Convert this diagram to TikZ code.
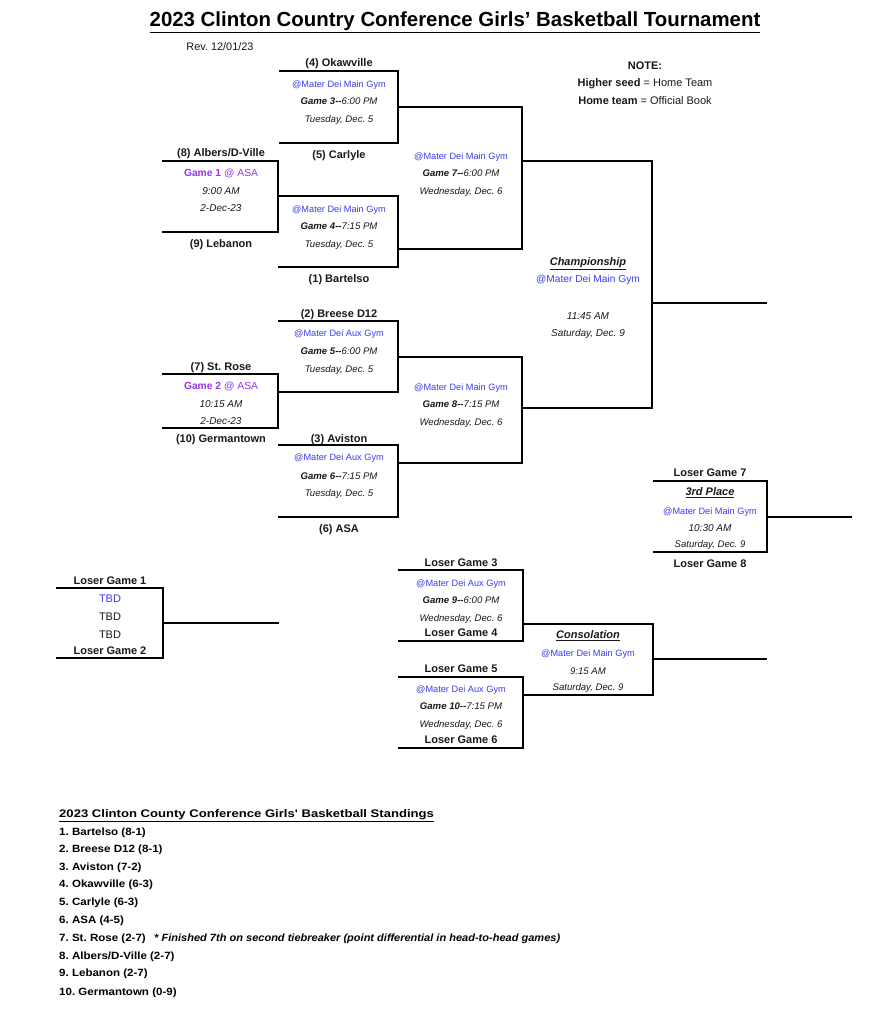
\documentclass[tikz,border=0pt]{standalone}
\usepackage{fontspec}
\setmainfont{Liberation Sans}
\newfontfamily\standfont[FakeStretch=1.1]{Liberation Sans}
\newfontfamily\notefont[FakeStretch=1.05]{Liberation Sans}
\newfontfamily\standtitlefont[FakeStretch=1.19]{Liberation Sans}
\definecolor{venuec}{RGB}{60,60,240}
\definecolor{purp}{RGB}{153,51,238}
\definecolor{txt}{RGB}{25,25,25}
\frenchspacing
\tikzset{
  br/.style={line width=1.5pt, line join=miter},
  team/.style={font=\fontsize{11}{13}\selectfont\bfseries, anchor=mid, inner sep=0, text=txt, yshift=-1pt},
  info/.style={font=\fontsize{9.6}{11}\selectfont\itshape, anchor=mid, inner sep=0, text=txt, yshift=-1pt},
  infob/.style={font=\fontsize{10}{12}\selectfont\itshape, anchor=mid, inner sep=0, text=txt, yshift=-1pt},
  venue/.style={font=\fontsize{9.2}{11}\selectfont, anchor=mid, inner sep=0, text=venuec, yshift=-1pt},
  venueb/.style={font=\fontsize{10.2}{12}\selectfont, anchor=mid, inner sep=0, text=venuec, yshift=-1pt},
  gameab/.style={font=\fontsize{10.3}{12}\selectfont, anchor=mid, inner sep=0, text=purp, yshift=-1pt},
  head/.style={font=\fontsize{11}{13}\selectfont\bfseries\itshape, anchor=mid, inner sep=0, text=txt, yshift=-1pt},
  note/.style={font=\fontsize{11}{13}\selectfont, anchor=mid, inner sep=0, text=txt, yshift=-1pt},
  stand/.style={font=\fontsize{10.5}{12}\selectfont\standfont\bfseries, anchor=base west, inner sep=0, text=black},
}
\begin{document}
\begin{tikzpicture}[x=1pt,y=-1pt]
\useasboundingbox[fill=white] (0,0) rectangle (893,1024);

% ---- Title ----
\node[font=\fontsize{20.4}{24}\selectfont\bfseries, anchor=mid, inner sep=0] (title) at (455,24) {\underline{2023 Clinton Country Conference Girls' Basketball Tournament}};
\node[note, font=\fontsize{10.9}{13}\selectfont] (rev) at (220,47) {Rev. 12/01/23};

% ---- Note ----
\node[team] (note1) at (645,65.5) {NOTE:};
\node[note] (note2) at (645,83) {\textbf{Higher seed} = Home Team};
\node[note] (note3) at (645,101) {\textbf{Home team} = Official Book};

% ---- Bracket lines ----
% Game 3
\draw[br] (279,71) coordinate (g3a) -- (398,71) coordinate (g3b) -- (398,143) coordinate (g3c) -- (279,143) coordinate (g3d);
% Game 1
\draw[br] (162,161) coordinate (g1a) -- (278,161) coordinate (g1b) -- (278,232) coordinate (g1c) -- (162,232) coordinate (g1d);
% Game 4
\draw[br] (278,196) coordinate (g4a) -- (398,196) coordinate (g4b) -- (398,267) coordinate (g4c) -- (278,267) coordinate (g4d);
% Game 7
\draw[br] (398,107) coordinate (g7a) -- (522,107) coordinate (g7b) -- (522,249) coordinate (g7c) -- (398,249) coordinate (g7d);
\coordinate (g7o) at (522,161);
% Game 5
\draw[br] (278,321) coordinate (g5a) -- (398,321) coordinate (g5b) -- (398,392) coordinate (g5c) -- (278,392) coordinate (g5d);
% Game 2
\draw[br] (162,374) coordinate (g2a) -- (278,374) coordinate (g2b) -- (278,428) coordinate (g2c) -- (162,428) coordinate (g2d);
% Game 6
\draw[br] (278,445) coordinate (g6a) -- (398,445) coordinate (g6b) -- (398,517) coordinate (g6c) -- (278,517) coordinate (g6d);
% Game 8
\draw[br] (398,357) coordinate (g8a) -- (522,357) coordinate (g8b) -- (522,463) coordinate (g8c) -- (398,463) coordinate (g8d);
\coordinate (g8o) at (522,408);
% Championship
\draw[br] (g7o) -- (652,161) coordinate (cha) -- (652,408) coordinate (chb) -- (g8o);
\coordinate (cho) at (652,303);
\coordinate (chend) at (767,303);
\draw[br] (cho) -- (chend);
% 3rd place
\draw[br] (653,481) coordinate (tpa) -- (767,481) coordinate (tpb) -- (767,552) coordinate (tpc) -- (653,552) coordinate (tpd);
\coordinate (tpo) at (767,517);
\coordinate (tpend) at (852,517);
\draw[br] (tpo) -- (tpend);
% Loser Game 1/2
\draw[br] (56,588) coordinate (lga) -- (163,588) coordinate (lgb) -- (163,658) coordinate (lgc) -- (56,658) coordinate (lgd);
\coordinate (lgo) at (163,623);
\coordinate (lgend) at (279,623);
\draw[br] (lgo) -- (lgend);
% Game 9
\draw[br] (398,570) coordinate (g9a) -- (523,570) coordinate (g9b) -- (523,641) coordinate (g9c) -- (398,641) coordinate (g9d);
\coordinate (g9o) at (523,624);
% Game 10
\draw[br] (398,677) coordinate (g10a) -- (523,677) coordinate (g10b) -- (523,748) coordinate (g10c) -- (398,748) coordinate (g10d);
\coordinate (g10o) at (523,695);
% Consolation
\draw[br] (g9o) -- (653,624) coordinate (coa) -- (653,695) coordinate (cob) -- (g10o);
\coordinate (coo) at (653,659);
\coordinate (coend) at (767,659);
\draw[br] (coo) -- (coend);

% ---- Game 3 ----
\node[team] (t4) at (339,63) {(4) Okawville};
\node[venue] (v3) at (339,84) {@Mater Dei Main Gym};
\node[info] (i3) at (339,101) {\textbf{Game 3-{}-}6:00 PM};
\node[info] (d3) at (339,119) {Tuesday, Dec. 5};
\node[team] (t5) at (339,155) {(5) Carlyle};

% ---- Game 1 ----
\node[team] (t8) at (221,153) {(8) Albers/D-Ville};
\node[gameab] (i1) at (221,173) {\textbf{Game 1} @ ASA};
\node[infob] (h1) at (221,190.5) {9:00 AM};
\node[infob] (d1) at (221,208) {2-Dec-23};
\node[team] (t9) at (221,243.5) {(9) Lebanon};

% ---- Game 4 ----
\node[venue] (v4) at (339,209) {@Mater Dei Main Gym};
\node[info] (i4) at (339,226) {\textbf{Game 4-{}-}7:15 PM};
\node[info] (d4) at (339,244) {Tuesday, Dec. 5};
\node[team] (t1) at (339,278.5) {(1) Bartelso};

% ---- Game 7 ----
\node[venue] (v7) at (461,156) {@Mater Dei Main Gym};
\node[info] (i7) at (461,173) {\textbf{Game 7-{}-}6:00 PM};
\node[info] (d7) at (461,191) {Wednesday, Dec. 6};

% ---- Championship ----
\node[head] (chh) at (588,261.5) {\underline{Championship}};
\node[venueb] (chv) at (588,279) {@Mater Dei Main Gym};
\node[infob] (cht) at (588,315.5) {11:45 AM};
\node[infob] (chd) at (588,332.5) {Saturday, Dec. 9};

% ---- Game 5 ----
\node[team] (t2) at (339,314) {(2) Breese D12};
\node[venue] (v5) at (339,333) {@Mater Dei Aux Gym};
\node[info] (i5) at (339,351) {\textbf{Game 5-{}-}6:00 PM};
\node[info] (d5) at (339,368.5) {Tuesday, Dec. 5};

% ---- Game 2 ----
\node[team] (t7) at (221,367) {(7) St. Rose};
\node[gameab] (i2) at (221,386) {\textbf{Game 2} @ ASA};
\node[infob] (h2) at (221,404) {10:15 AM};
\node[infob] (d2) at (221,421) {2-Dec-23};
\node[team] (t10) at (221,439) {(10) Germantown};

% ---- Game 6 ----
\node[team] (t3) at (339,438.5) {(3) Aviston};
\node[venue] (v6) at (339,457) {@Mater Dei Aux Gym};
\node[info] (i6) at (339,475.5) {\textbf{Game 6-{}-}7:15 PM};
\node[info] (d6) at (339,493) {Tuesday, Dec. 5};
\node[team] (t6) at (339,529) {(6) ASA};

% ---- Game 8 ----
\node[venue] (v8) at (461,387) {@Mater Dei Main Gym};
\node[info] (i8) at (461,404) {\textbf{Game 8-{}-}7:15 PM};
\node[info] (d8) at (461,422) {Wednesday, Dec. 6};

% ---- 3rd place ----
\node[team] (l7) at (710,473) {Loser Game 7};
\node[head] (tph) at (710,492) {\underline{3rd Place}};
\node[venue] (tpv) at (710,511) {@Mater Dei Main Gym};
\node[infob] (tpt) at (710,528) {10:30 AM};
\node[info] (tpdd) at (710,544) {Saturday, Dec. 9};
\node[team] (l8) at (710,564) {Loser Game 8};

% ---- Loser Game 1/2 ----
\node[team] (l1) at (110,581) {Loser Game 1};
\node[note, text=venuec] (tbd1) at (110,599) {TBD};
\node[note] (tbd2) at (110,617) {TBD};
\node[note] (tbd3) at (110,635) {TBD};
\node[team] (l2) at (110,651) {Loser Game 2};

% ---- Game 9 ----
\node[team] (l3) at (461,562.5) {Loser Game 3};
\node[venue] (v9) at (461,583) {@Mater Dei Aux Gym};
\node[info] (i9) at (461,600) {\textbf{Game 9-{}-}6:00 PM};
\node[info] (d9) at (461,617.5) {Wednesday, Dec. 6};
\node[team] (l4) at (461,633) {Loser Game 4};

% ---- Consolation ----
\node[head] (coh) at (588,635) {\underline{Consolation}};
\node[venue] (cov) at (588,653) {@Mater Dei Main Gym};
\node[info] (cot) at (588,671) {9:15 AM};
\node[info] (cod) at (588,687) {Saturday, Dec. 9};

% ---- Game 10 ----
\node[team] (l5) at (461,669) {Loser Game 5};
\node[venue] (v10) at (461,689) {@Mater Dei Aux Gym};
\node[info] (i10) at (461,706) {\textbf{Game 10-{}-}7:15 PM};
\node[info] (d10) at (461,724) {Wednesday, Dec. 6};
\node[team] (l6) at (461,740) {Loser Game 6};

% ---- Standings ----
\node[anchor=base west, inner sep=0, font=\fontsize{11}{13}\selectfont\standtitlefont\bfseries] (st) at (59,817) {\underline{2023 Clinton County Conference Girls' Basketball Standings}};
\node[stand] (s1) at (59,835) {1. Bartelso (8-1)};
\node[stand] (s2) at (59,852) {2. Breese D12 (8-1)};
\node[stand] (s3) at (59,870) {3. Aviston (7-2)};
\node[stand] (s4) at (59,887) {4. Okawville (6-3)};
\node[stand] (s5) at (59,905) {5. Carlyle (6-3)};
\node[stand] (s6) at (59,923) {6. ASA (4-5)};
\node[stand] (s7) at (59,941) {7. St. Rose (2-7)};
\node[stand, font=\fontsize{10.5}{12}\selectfont\notefont\bfseries\itshape, xshift=8pt] (s7n) at (s7.base east) {* Finished 7th on second tiebreaker (point differential in head-to-head games)};
\node[stand] (s8) at (59,959) {8. Albers/D-Ville (2-7)};
\node[stand] (s9) at (59,976) {9. Lebanon (2-7)};
\node[stand] (s10) at (59,995) {10. Germantown (0-9)};
\end{tikzpicture}
\end{document}
